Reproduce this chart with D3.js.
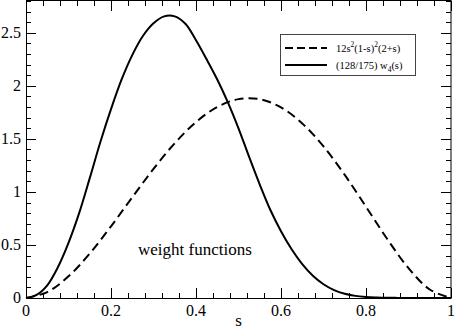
<!DOCTYPE html>
<html><head><meta charset="utf-8">
<script src="https://cdn.jsdelivr.net/npm/d3@7"></script>
<style>body{margin:0;background:#fff}svg{display:block}</style>
</head><body>
<script>
const dashedS = [0,0.05,0.1,0.15,0.2,0.25,0.3,0.35,0.4,0.45,0.5,0.55,0.6,0.65,0.7,0.75,0.8,0.85,0.9,0.95,1];
const dashedV = [0,0.0555,0.2041,0.4194,0.6758,0.9492,1.2172,1.4595,1.6589,1.8009,1.875,1.8744,1.7971,1.6459,1.4288,1.1602,0.8602,0.5560,0.2819,0.0799,0];
const solidS = [0,0.025,0.05,0.075,0.1,0.125,0.15,0.175,0.2,0.225,0.25,0.275,0.3,0.325,0.35,0.375,0.4,0.425,0.45,0.475,0.5,0.525,0.55,0.575,0.6,0.625,0.65,0.675,0.7,0.725,0.75,0.775,0.8,0.825,0.85,0.875,0.9,0.95,1];
const solidV = [0,0.03,0.12,0.29,0.52,0.80,1.13,1.47,1.78,2.06,2.29,2.47,2.59,2.655,2.655,2.585,2.43,2.25,2.06,1.845,1.60,1.33,1.07,0.83,0.63,0.46,0.32,0.21,0.13,0.075,0.04,0.02,0.01,0.005,0.002,0.001,0.0003,0,0];
const xTicks = [0,0.2,0.4,0.6,0.8,1];
const xTickLabels = ["0","0.2","0.4","0.6","0.8","1"];
const yTicks = [0,0.5,1,1.5,2,2.5];
const yTickLabels = ["0","0.5","1","1.5","2","2.5"];
const xTitle = "s";
const annotation = "weight functions";

const FONT = "Liberation Serif";
const W=455,H=329;
const L=26,R=451,T=1,B=298;
const svg=d3.select("body").append("svg").attr("width",W).attr("height",H);
const x=d3.scaleLinear().domain([0,1]).range([L,R]);
const y=d3.scaleLinear().domain([0,2.8]).range([B,T]);

// ticks (inward, on all four sides)
const g=svg.append("g").attr("stroke","#000").attr("stroke-width",1);
d3.range(0,1.0001,0.04).forEach(v=>{
  const X=Math.round(x(v))+0.5;
  const len=xTicks.some(t=>Math.abs(t-v)<1e-6)?10:5;
  g.append("line").attr("x1",X).attr("x2",X).attr("y1",B).attr("y2",B-len);
  g.append("line").attr("x1",X).attr("x2",X).attr("y1",T).attr("y2",T+len);
});
d3.range(0,2.80001,0.1).forEach(v=>{
  const Y=Math.round(y(v))+0.5;
  const len=yTicks.some(t=>Math.abs(t-v)<1e-6)?10:5;
  g.append("line").attr("x1",L).attr("x2",L+len).attr("y1",Y).attr("y2",Y);
  g.append("line").attr("x1",R).attr("x2",R-len).attr("y1",Y).attr("y2",Y);
});

// frame
svg.append("rect").attr("x",L+0.5).attr("y",T-0.5).attr("width",R-L-0.5).attr("height",B-T+1)
  .attr("fill","none").attr("stroke","#000").attr("stroke-width",1);

// labels
function txt(xp,yp,s,size,anchor){
  return svg.append("text").attr("x",xp).attr("y",yp).attr("font-family",FONT)
    .attr("font-size",size).attr("text-anchor",anchor||"start").text(s);
}
xTicks.forEach((t,i)=>txt(x(t),316,xTickLabels[i],16,"middle"));
yTicks.forEach((t,i)=>txt(21,y(t)+5,yTickLabels[i],16,"end"));
txt(x(0.5),326,xTitle,17,"middle");
txt(138,255,annotation,17);

// curves
const line=d3.line().x(d=>x(d[0])).y(d=>y(d[1])).curve(d3.curveCatmullRom);
svg.append("path").datum(dashedS.map((s,i)=>[s,dashedV[i]])).attr("d",line)
  .attr("fill","none").attr("stroke","#000").attr("stroke-width",2).attr("stroke-dasharray","9,5");
svg.append("path").datum(solidS.map((s,i)=>[s,solidV[i]])).attr("d",line)
  .attr("fill","none").attr("stroke","#000").attr("stroke-width",2);

// legend
const lg=svg.append("g");
lg.append("rect").attr("x",280.5).attr("y",34.5).attr("width",135).attr("height",41)
  .attr("fill","#fff").attr("stroke","#444").attr("stroke-width",1);
lg.append("line").attr("x1",285).attr("x2",327).attr("y1",48).attr("y2",48)
  .attr("stroke","#000").attr("stroke-width",2).attr("stroke-dasharray","8,4");
lg.append("line").attr("x1",285).attr("x2",327).attr("y1",65).attr("y2",65)
  .attr("stroke","#000").attr("stroke-width",2);
const t1=lg.append("text").attr("x",336).attr("y",52).attr("font-size",10.5).attr("font-family",FONT);
t1.append("tspan").text("12s");
t1.append("tspan").attr("dy",-5).attr("font-size",7.5).text("2");
t1.append("tspan").attr("dy",5).text("(1-s)");
t1.append("tspan").attr("dy",-5).attr("font-size",7.5).text("2");
t1.append("tspan").attr("dy",5).text("(2+s)");
const t2=lg.append("text").attr("x",336).attr("y",69).attr("font-size",10.5).attr("font-family",FONT);
t2.append("tspan").text("(128/175) w");
t2.append("tspan").attr("dy",3).attr("font-size",7.5).text("4");
t2.append("tspan").attr("dy",-3).text("(s)");
</script>
</body></html>
